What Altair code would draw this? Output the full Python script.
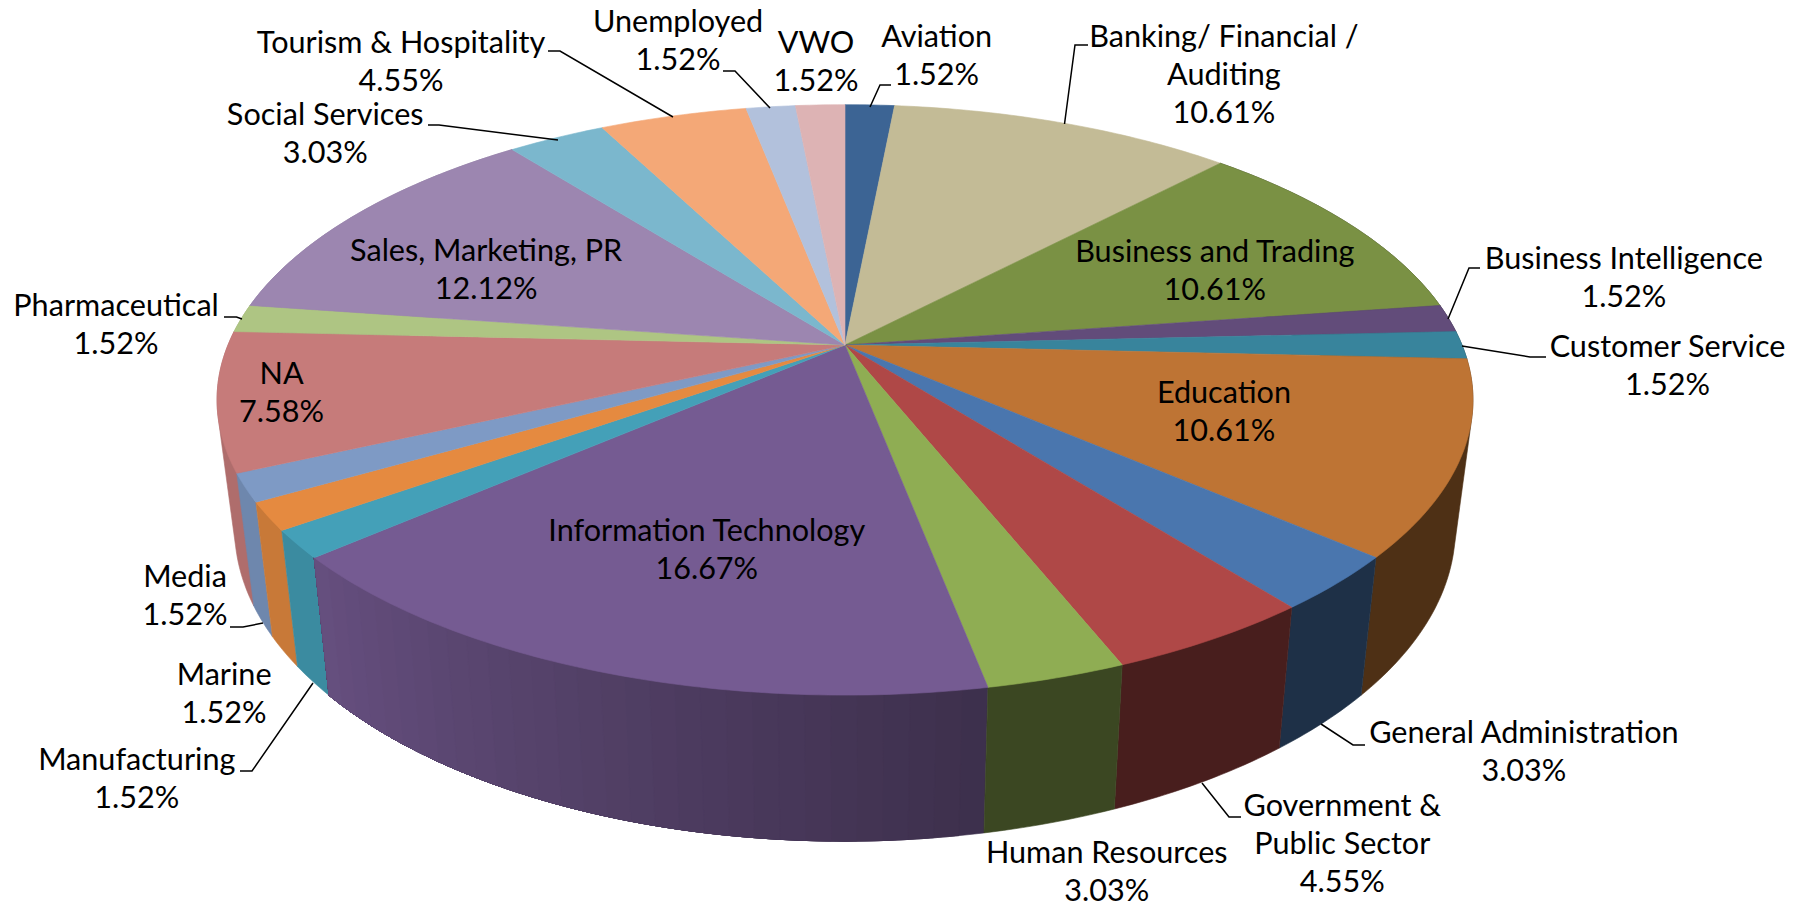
import math
import numpy as np
import altair as alt

# ---------- data ----------
CATEGORIES = ["Aviation", "Banking/ Financial / Auditing", "Business and Trading", "Business Intelligence",
              "Customer Service", "Education", "General Administration", "Government & Public Sector",
              "Human Resources", "Information Technology", "Manufacturing", "Marine", "Media", "NA",
              "Pharmaceutical", "Sales, Marketing, PR", "Social Services", "Tourism & Hospitality",
              "Unemployed", "VWO"]
VALUES = [1.52, 10.61, 10.61, 1.52, 1.52, 10.61, 3.03, 4.55, 3.03, 16.67,
          1.52, 1.52, 1.52, 7.58, 1.52, 12.12, 3.03, 4.55, 1.52, 1.52]
COLORS = ["#3C6494", "#C3BB96", "#7A9144", "#624C7A", "#38849C", "#BE7434", "#4A76AE", "#AF4847",
          "#8FAD53", "#755B92", "#44A0B8", "#E58A40", "#7E9AC5", "#C67B7A", "#AEC583", "#9C86B0",
          "#7BB7CD", "#F4A877", "#B2C1DC", "#DDB3B4"]
LABEL_LINES = [["Aviation"], ["Banking/ Financial /", "Auditing"], ["Business and Trading"],
               ["Business Intelligence"], ["Customer Service"], ["Education"], ["General Administration"],
               ["Government &", "Public Sector"], ["Human Resources"], ["Information Technology"],
               ["Manufacturing"], ["Marine"], ["Media"], ["NA"], ["Pharmaceutical"], ["Sales, Marketing, PR"],
               ["Social Services"], ["Tourism & Hospitality"], ["Unemployed"], ["VWO"]]

# ---------- layout (page pixels) ----------
SH = 1802 / 1568
LABEL_XY = [(815, 32), (1065, 32), (1057, 219), (1413, 225), (1451, 302), (1065, 342), (1326, 638),
            (1168, 701), (963, 742), (615, 462), (119, 661), (195, 587), (161, 502), (245, 325),
            (101, 266), (423, 218), (283, 100), (349, 37), (590, 19), (710, 37)]
LINE_STEP = 33.3 * SH
LEADERS = [
    [(548, 51), (560, 51), (673, 117)], [(723, 71), (735, 71), (770, 108)],
    [(891, 85), (880, 85), (870, 107)], [(1088, 45), (1075, 45), (1064.5, 124)],
    [(428, 125), (439, 125), (558, 140)], [(224, 317), (236.5, 317), (242, 319)],
    [(1480, 268), (1469, 268), (1448, 319)], [(1546, 357), (1530, 357), (1462, 346)],
    [(1365, 745), (1353, 745), (1321, 724)], [(1241, 817), (1229, 817), (1202, 783)],
    [(230, 627), (243, 627), (263, 623)], [(240, 771), (252, 771), (313, 683)],
]
CX, CY, A, B, K = 845.0, 345.0, 617.0, 285.0, 0.186
SX, SY, SHIFT = 0.972, 1.06, 125.0


def top(theta):
    t = math.radians(theta)
    Y = -math.cos(t)
    d = 1 - K * Y
    return (CX + A * math.sin(t) / d, CY + B * Y / d)


def bottom(theta):
    x, y = top(theta)
    return (CX + SX * (x - CX), CY + SY * (y - CY) + SHIFT)


def shade(hex_color, theta):
    f = float(np.interp(theta, [169.2, 169.3, 229.2, 300], [0.41, 0.52, 0.87, 0.9]))
    rgb = [int(hex_color[i:i + 2], 16) for i in (1, 3, 5)]
    return "#%02x%02x%02x" % tuple(int(round(c * f)) for c in rgb)


def poly(points, color):
    pts = [list(p) for p in points]
    if pts[0] != pts[-1]:
        pts.append(pts[0])
    return {"type": "Feature", "geometry": {"type": "Polygon", "coordinates": [pts]},
            "properties": {"c": color}}


def hull(points):
    pts = sorted(set(points))

    def half(seq):
        out = []
        for p in seq:
            while len(out) >= 2 and ((out[-1][0] - out[-2][0]) * (p[1] - out[-2][1])
                                     - (out[-1][1] - out[-2][1]) * (p[0] - out[-2][0])) <= 0:
                out.pop()
            out.append(p)
        return out[:-1]

    return half(pts) + half(pts[::-1])


def wall(ths, color):
    ths = [float(t) for t in ths]
    # the swept wall, including the part that turns round the pie's left and right edges;
    # whatever lies behind the top face is painted over by it
    return poly(hull([top(t) for t in ths] + [bottom(t) for t in ths]), color)


# ---------- geometry derived from the values ----------
total = sum(VALUES)
edges = [0.0]
for v in VALUES:
    edges.append(edges[-1] + v / total * 360)

GRADIENT_SLICE = CATEGORIES.index("Information Technology")
tops, walls = [], []
for i, color in enumerate(COLORS):
    a0, a1 = edges[i], edges[i + 1]
    n = max(2, int((a1 - a0) / 0.75) + 1)
    ths = np.linspace(a0, a1, n)
    tops.append(poly([(CX, CY)] + [top(float(t)) for t in ths], color))
    if a1 > 70 and a0 < 290:
        depth = -math.cos(math.radians((a0 + a1) / 2))
        if i == GRADIENT_SLICE:
            # nested bands: each one runs on to the slice's far edge, so no seams appear
            bands = np.linspace(a0, a1, 31)
            group = []
            for b0, b1 in zip(bands[:-1], bands[1:]):
                sub = np.linspace(b0, a1, max(2, int((a1 - b0) / 0.75) + 1))
                group.append(wall(sub, shade(color, float(b0 + b1) / 2)))
            walls.append((depth, group))
        else:
            walls.append((depth, [wall(ths, shade(color, (a0 + a1) / 2))]))
sides = [f for _, group in sorted(walls, key=lambda s: s[0]) for f in group]

W, H = 1786, 895
frame = [poly([(8, 8), (8 + W, 8), (8 + W, 8 + H), (8, 8 + H)], "#ffffff")]
leader_features = [{"type": "Feature", "geometry": {"type": "LineString", "coordinates": [list(p) for p in l]},
                    "properties": {"c": "#000000"}} for l in LEADERS]

text_rows = []
for cat, val, lines, (lx, ly) in zip(CATEGORIES, VALUES, LABEL_LINES, LABEL_XY):
    rows = lines + [f"{val:.2f}%"]
    for j, r in enumerate(rows):
        text_rows.append({"lon": lx * SH, "lat": ly * SH + j * LINE_STEP + 1, "t": r})

PROJ = dict(type="identity", scale=1, translate=[-8, -8])


def shapes(features, stroke_width=0.6):
    return (alt.Chart(alt.Data(values=features))
            .mark_geoshape(strokeWidth=stroke_width)
            .encode(fill=alt.Fill("properties.c:N", scale=None),
                    stroke=alt.Stroke("properties.c:N", scale=None))
            .project(**PROJ))


lines_layer = (alt.Chart(alt.Data(values=leader_features))
               .mark_geoshape(filled=False, stroke="#000000", strokeWidth=1.5)
               .project(**PROJ))

text_layer = (alt.Chart(alt.Data(values=text_rows))
              .mark_text(font="Lato", fontSize=30.6, color="#000000", align="center", baseline="middle")
              .encode(longitude="lon:Q", latitude="lat:Q", text="t:N")
              .project(**PROJ))

chart = (alt.layer(shapes(frame), shapes(sides), shapes(tops), lines_layer, text_layer)
         .properties(width=W, height=H, padding=0, background="#ffffff")
         .configure_view(stroke=None))

chart.save("out.html", embed_options={"renderer": "svg", "actions": False})
